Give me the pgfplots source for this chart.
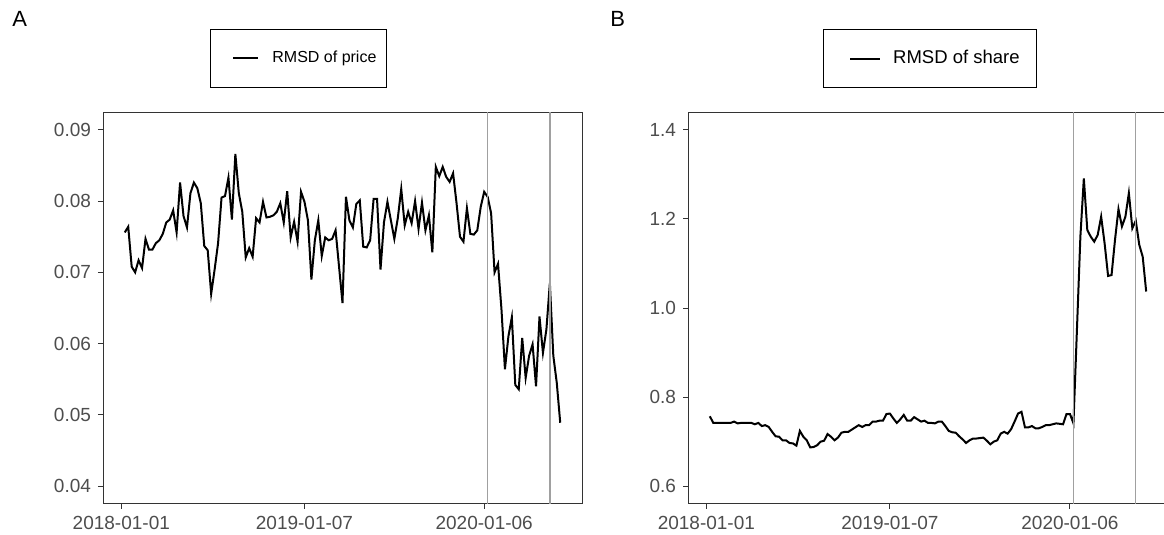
\documentclass[border=0pt]{standalone}
\usepackage{pgfplots}
\pgfplotsset{compat=1.18}
\usepackage{fontspec}
\setmainfont{Liberation Sans}
\definecolor{axgray}{HTML}{333333}
\definecolor{tickgray}{HTML}{4D4D4D}
\definecolor{vgray}{HTML}{A0A0A0}

\pgfplotsset{
  panel/.style={
    scale only axis,
    axis line style={axgray, line width=0.5pt},
    tick style={axgray, line width=0.5pt},
    tick align=outside,
    major tick length=2.5pt,
    xtick pos=bottom, ytick pos=left,
    scaled y ticks=false,
    tick label style={font=\fontsize{9.5}{10}\selectfont, text=tickgray},
    xtick={0,53,105},
    xticklabels={2018-01-01,2019-01-07,2020-01-06},
    xmin=-5.3, xmax=133.3,
    legend style={draw=black, line width=0.6pt, anchor=center,
      inner ysep=10.5pt,
      nodes={inner sep=0pt}},
    legend cell align=left,
  },
}

\pgfplotstableread{
w v
1 0.0756
2 0.0764
3 0.0708
4 0.0700
5 0.0717
6 0.0706
7 0.0747
8 0.0732
9 0.0732
10 0.0741
11 0.0745
12 0.0754
13 0.0770
14 0.0774
15 0.0787
16 0.0756
17 0.0826
18 0.0779
19 0.0763
20 0.0811
21 0.0826
22 0.0818
23 0.0797
24 0.0737
25 0.0731
26 0.0670
27 0.0704
28 0.0741
29 0.0805
30 0.0807
31 0.0833
32 0.0774
33 0.0866
34 0.0811
35 0.0785
36 0.0721
37 0.0734
38 0.0722
39 0.0776
40 0.0770
41 0.0799
42 0.0777
43 0.0778
44 0.0780
45 0.0785
46 0.0797
47 0.0770
48 0.0814
49 0.0749
50 0.0771
51 0.0743
52 0.0813
53 0.0799
54 0.0773
55 0.0690
56 0.0745
57 0.0773
58 0.0723
59 0.0749
60 0.0745
61 0.0747
62 0.0759
63 0.0708
64 0.0657
65 0.0806
66 0.0773
67 0.0763
68 0.0796
69 0.0801
70 0.0736
71 0.0735
72 0.0745
73 0.0803
74 0.0803
75 0.0704
76 0.0770
77 0.0799
78 0.0773
79 0.0747
80 0.0776
81 0.0817
82 0.0766
83 0.0785
84 0.0769
85 0.0800
86 0.0761
87 0.0798
88 0.0759
89 0.0780
90 0.0728
91 0.0848
92 0.0835
93 0.0848
94 0.0834
95 0.0827
96 0.0839
97 0.0797
98 0.0750
99 0.0743
100 0.0790
101 0.0754
102 0.0753
103 0.0759
104 0.0792
105 0.0813
106 0.0806
107 0.0783
108 0.0700
109 0.0712
110 0.0648
111 0.0564
112 0.0610
113 0.0637
114 0.0542
115 0.0536
116 0.0608
117 0.0552
118 0.0583
119 0.0599
120 0.0540
121 0.0638
122 0.0587
123 0.0620
124 0.0685
125 0.0583
126 0.0545
127 0.0489
}\priceData

\pgfplotstableread{
w v
1 0.757
2 0.742
3 0.742
4 0.742
5 0.742
6 0.742
7 0.742
8 0.745
9 0.741
10 0.742
11 0.742
12 0.742
13 0.742
14 0.739
15 0.742
16 0.735
17 0.737
18 0.733
19 0.722
20 0.712
21 0.711
22 0.703
23 0.703
24 0.697
25 0.696
26 0.691
27 0.724
28 0.711
29 0.703
30 0.687
31 0.688
32 0.692
33 0.700
34 0.702
35 0.717
36 0.711
37 0.703
38 0.709
39 0.720
40 0.722
41 0.722
42 0.727
43 0.732
44 0.737
45 0.733
46 0.737
47 0.737
48 0.745
49 0.745
50 0.747
51 0.747
52 0.762
53 0.763
54 0.752
55 0.742
56 0.750
57 0.760
58 0.747
59 0.747
60 0.755
61 0.750
62 0.745
63 0.747
64 0.742
65 0.742
66 0.741
67 0.745
68 0.745
69 0.735
70 0.724
71 0.721
72 0.720
73 0.712
74 0.705
75 0.697
76 0.703
77 0.707
78 0.707
79 0.708
80 0.709
81 0.702
82 0.694
83 0.700
84 0.703
85 0.718
86 0.722
87 0.718
88 0.728
89 0.745
90 0.763
91 0.767
92 0.732
93 0.732
94 0.735
95 0.730
96 0.730
97 0.733
98 0.737
99 0.737
100 0.739
101 0.741
102 0.740
103 0.739
104 0.762
105 0.762
106 0.741
107 0.950
108 1.160
109 1.291
110 1.175
111 1.160
112 1.149
113 1.164
114 1.205
115 1.145
116 1.072
117 1.074
118 1.153
119 1.222
120 1.183
121 1.205
122 1.258
123 1.179
124 1.196
125 1.142
126 1.115
127 1.037
}\shareData

\begin{document}
\begin{tikzpicture}
\useasboundingbox (0,0) rectangle (582pt,267.5pt);

\begin{axis}[panel,
  at={(51.5pt,15.5pt)}, anchor=south west,
  width=239.5pt, height=196pt,
  ymin=0.0375, ymax=0.0925,
  ytick={0.04,0.05,0.06,0.07,0.08,0.09},
  yticklabels={0.04,0.05,0.06,0.07,0.08,0.09},
  legend style={at={(0.408,1.1365)}, inner xsep=5pt,
    font=\fontsize{8}{9.6}\selectfont,
    nodes={text height=6pt, text depth=1.7pt}},
  legend image code/.code={\path[draw=none] (0pt,0pt) -- (6.5pt,0pt); \draw[#1] (6.5pt,0pt) -- (19pt,0pt); \path[draw=none] (19pt,0pt) -- (26pt,0pt);},
]
\addplot[black, line width=1pt] table[x=w, y=v] {\priceData};
\addlegendentry{RMSD of price}
\addplot[vgray, line width=0.7pt, forget plot] coordinates {(106,0.0375) (106,0.0925)};
\addplot[vgray, line width=0.7pt, forget plot] coordinates {(124,0.0375) (124,0.0925)};
\end{axis}

\begin{axis}[panel,
  at={(344pt,15.5pt)}, anchor=south west,
  width=240pt, height=196pt,
  ymin=0.56, ymax=1.44,
  ytick={0.6,0.8,1.0,1.2,1.4},
  yticklabels={0.6,0.8,1.0,1.2,1.4},
  legend style={at={(0.504,1.1365)}, inner xsep=8.5pt, inner ysep=10pt,
    font=\fontsize{9.25}{11}\selectfont,
    nodes={text height=6.9pt, text depth=1.9pt}},
  legend image code/.code={\path[draw=none] (0pt,0pt) -- (5pt,0pt); \draw[#1] (5pt,0pt) -- (20pt,0pt); \path[draw=none] (20pt,0pt) -- (26.5pt,0pt);},
]
\addplot[black, line width=1pt] table[x=w, y=v] {\shareData};
\addlegendentry{RMSD of share}
\addplot[vgray, line width=0.7pt, forget plot] coordinates {(106,0.56) (106,1.44)};
\addplot[vgray, line width=0.7pt, forget plot] coordinates {(124,0.56) (124,1.44)};
\end{axis}

\node[anchor=north west, inner sep=0pt, font=\fontsize{11}{12}\selectfont] at (6pt,262pt) {A};
\node[anchor=north west, inner sep=0pt, font=\fontsize{11}{12}\selectfont] at (305pt,262pt) {B};
\end{tikzpicture}
\end{document}
